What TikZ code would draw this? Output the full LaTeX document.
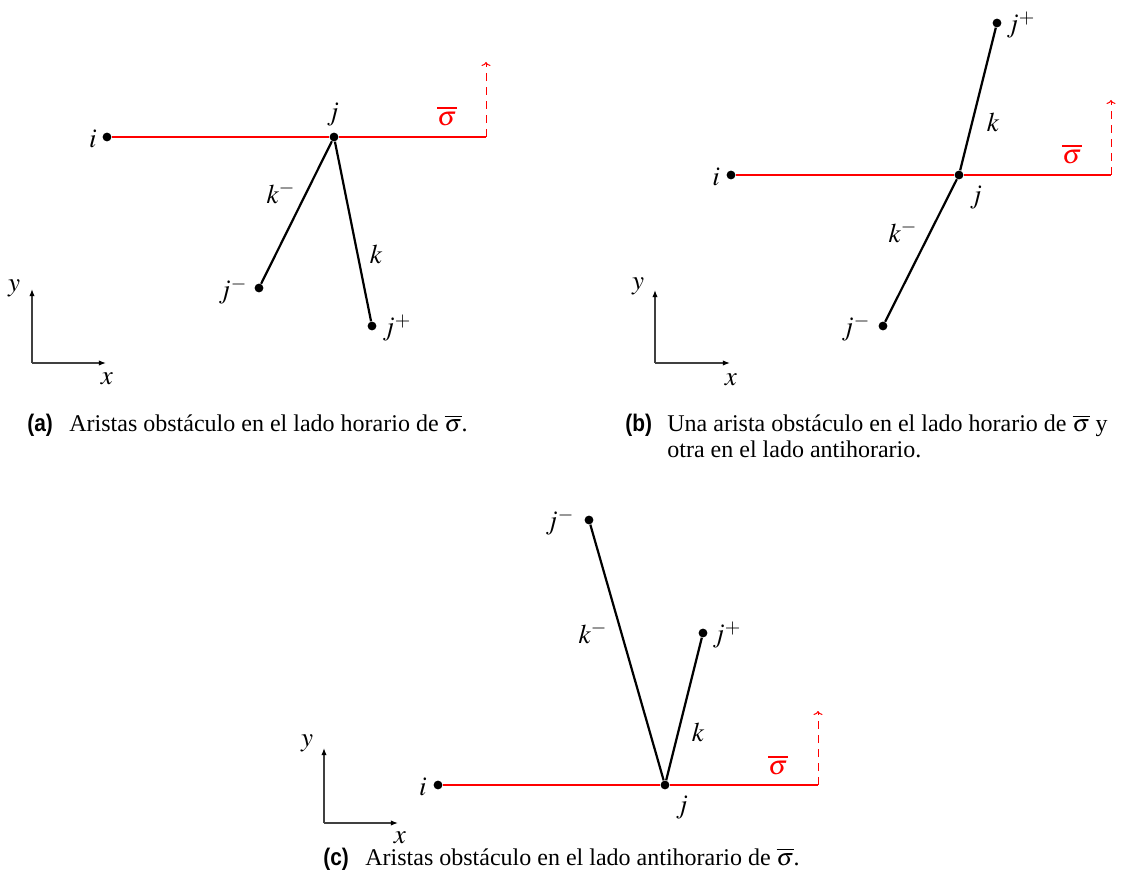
\documentclass[tikz,border=0pt]{standalone}
\usepackage{mathptmx}
\usepackage{graphicx}
\usepackage{fontspec}
\setmainfont{Liberation Serif}
\newfontfamily\capfont{Liberation Sans}
\usetikzlibrary{arrows.meta}
\tikzset{
  dot/.style={circle, fill=black, inner sep=0pt, minimum size=4.4pt},
  obst/.style={line width=1.1pt, black},
  sigline/.style={line width=1.1pt, red},
  sigdash/.style={line width=0.5pt, red, dash pattern=on 4pt off 3pt, -{To[length=2pt,width=4.5pt]}},
  axis/.style={line width=0.6pt, black!75, -{Latex[length=3.6pt,width=2.7pt, fill=black, color=black]}},
  lbl/.style={inner sep=0pt, font=\fontsize{13.5}{15}\selectfont},
  caplbl/.style={anchor=base west, inner sep=0pt, font=\capfont\bfseries\fontsize{12}{14}\selectfont},
  captxt/.style={anchor=base west, inner sep=0pt}
}
\newcommand{\capbox}[1]{\scalebox{0.87}[1]{#1}}
\begin{document}
\begin{tikzpicture}[x=0.5pt,y=-0.5pt, font=\fontsize{12}{14}\selectfont]
\useasboundingbox (0,0) rectangle (1126,893);

% ---------------- panel (a)
\node[dot] (ai) at (107,137) {};
\node[dot] (aj) at (334,137) {};
\node[dot] (ajm) at (259,288) {};
\node[dot] (ajp) at (372,326) {};
\coordinate (aend) at (486,137);
\coordinate (atop) at (486,62);
\draw[sigline] (ai) -- (aj);
\draw[sigline] (aj) -- (aend);
\draw[sigdash] (aend) -- (atop);
\draw[obst] (aj) -- (ajm);
\draw[obst] (aj) -- (ajp);
\node[lbl] (ail) at (93,139) {$i$};
\node[lbl] (ajl) at (333,115) {$j$};
\node[lbl, text=red] (asig) at (447,116) {$\overline{\sigma}$};
\node[lbl] (ajml) at (233,291) {$j^-$};
\node[lbl] (ajpl) at (397,328) {$j^+$};
\node[lbl] (akm) at (281,193) {$k^-$};
\node[lbl] (ak) at (376,254) {$k$};
\coordinate (ao) at (32,363);
\coordinate (ax) at (106,363);
\coordinate (ay) at (32,289);
\draw[axis] (ao) -- (ax);
\draw[axis] (ao) -- (ay);
\node[lbl] (ayl) at (14,288) {$y$};
\node[lbl] (axl) at (107,379) {$x$};
\node[caplbl] (capa) at (27,432) {\capbox{(a)}};
\node[captxt] (capat) at (69,432) {Aristas obstáculo en el lado horario de $\overline{\sigma}$.};

% ---------------- panel (b)
\node[dot] (bi) at (731,175) {};
\node[dot] (bj) at (959,175) {};
\node[dot] (bjp) at (997,23) {};
\node[dot] (bjm) at (883,326) {};
\coordinate (bend) at (1111,175);
\coordinate (btop) at (1111,100);
\draw[sigline] (bi) -- (bj);
\draw[sigline] (bj) -- (bend);
\draw[sigdash] (bend) -- (btop);
\draw[obst] (bj) -- (bjp);
\draw[obst] (bj) -- (bjm);
\node[lbl] (bil) at (716,177) {$i$};
\node[lbl] (bjl) at (976,198) {$j$};
\node[lbl] (bjpl) at (1021,25) {$j^+$};
\node[lbl] (bjml) at (856,328) {$j^-$};
\node[lbl] (bk) at (993,122) {$k$};
\node[lbl] (bkm) at (903,232) {$k^-$};
\node[lbl, text=red] (bsig) at (1072,154) {$\overline{\sigma}$};
\coordinate (bo) at (655,363);
\coordinate (bx) at (730,363);
\coordinate (by) at (655,290);
\draw[axis] (bo) -- (bx);
\draw[axis] (bo) -- (by);
\node[lbl] (byl) at (638,286) {$y$};
\node[lbl] (bxl) at (731,380) {$x$};
\node[caplbl] (capb) at (625,432) {\capbox{(b)}};
\node[captxt] (capbt) at (667,432) {Una arista obstáculo en el lado horario de $\overline{\sigma}$ y};
\node[captxt] (capbt2) at (667,458) {otra en el lado antihorario.};

% ---------------- panel (c)
\node[dot] (ci) at (438,785) {};
\node[dot] (cj) at (665,785) {};
\node[dot] (cjm) at (589,520) {};
\node[dot] (cjp) at (703,633) {};
\coordinate (cend) at (818,785);
\coordinate (ctop) at (818,711);
\draw[sigline] (ci) -- (cj);
\draw[sigline] (cj) -- (cend);
\draw[sigdash] (cend) -- (ctop);
\draw[obst] (cj) -- (cjm);
\draw[obst] (cj) -- (cjp);
\node[lbl] (cil) at (423,787) {$i$};
\node[lbl] (cjl) at (682,808) {$j$};
\node[lbl] (cjml) at (560,522) {$j^-$};
\node[lbl] (cjpl) at (727,635) {$j^+$};
\node[lbl] (ckm) at (593,633) {$k^-$};
\node[lbl] (ck) at (698,732) {$k$};
\node[lbl, text=red] (csig) at (778,765) {$\overline{\sigma}$};
\coordinate (co) at (324,823);
\coordinate (cx) at (398,823);
\coordinate (cy) at (324,748);
\draw[axis] (co) -- (cx);
\draw[axis] (co) -- (cy);
\node[lbl] (cyl) at (307,743) {$y$};
\node[lbl] (cxl) at (400,838) {$x$};
\node[caplbl] (capc) at (323,865) {\capbox{(c)}};
\node[captxt] (capct) at (365,865) {Aristas obstáculo en el lado antihorario de $\overline{\sigma}$.};
\end{tikzpicture}
\end{document}
